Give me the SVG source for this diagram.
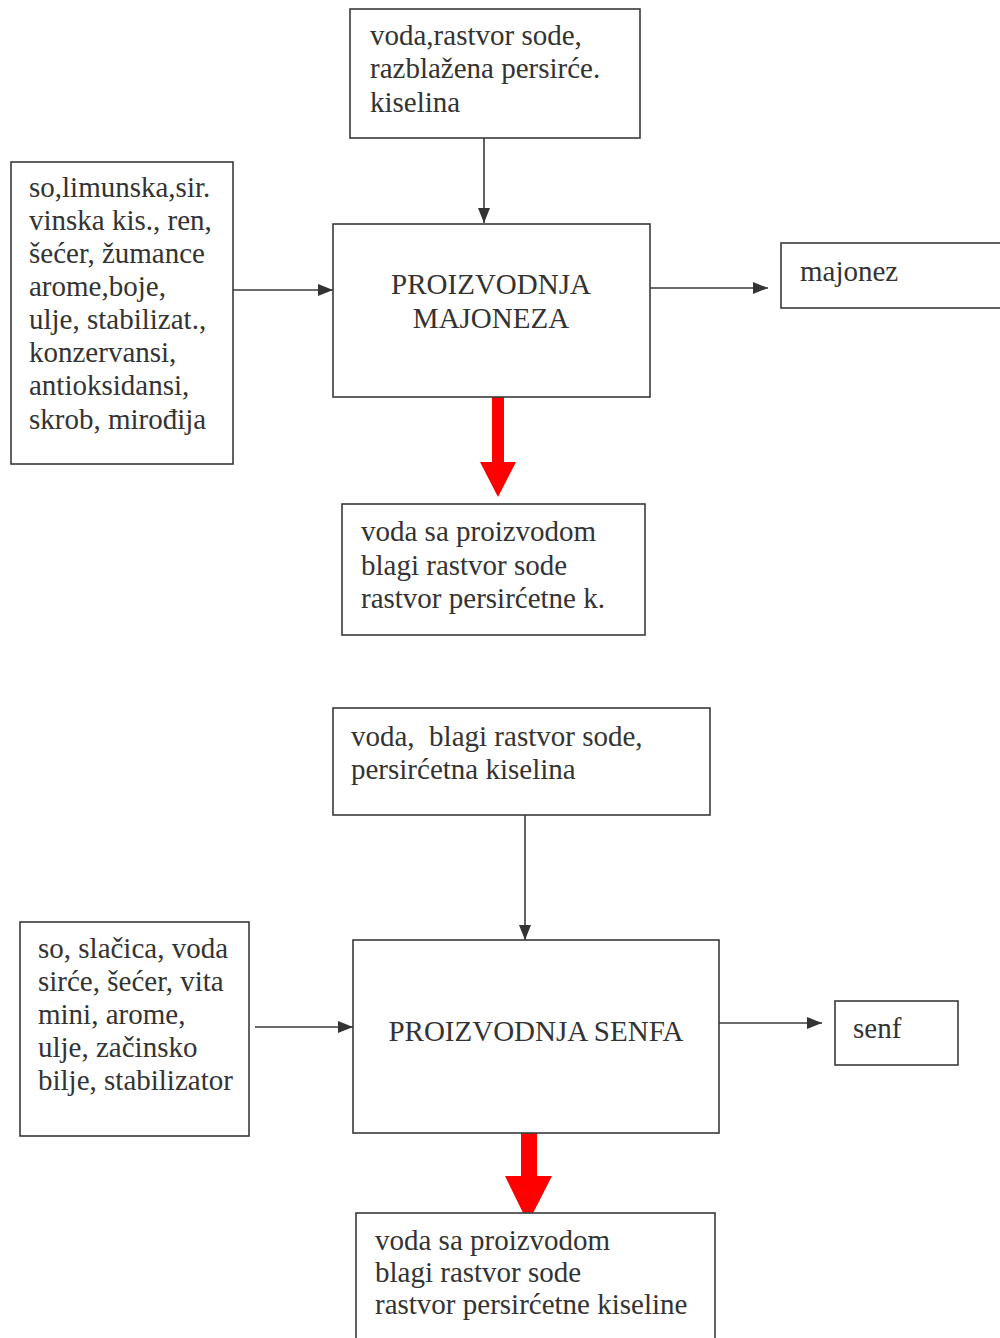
<svg xmlns="http://www.w3.org/2000/svg" width="1000" height="1338" viewBox="0 0 1000 1338">
<style>
.box{fill:#fff;stroke:#3a3a3a;stroke-width:1.6}
.t{font-family:"Liberation Serif","Times New Roman",serif;font-size:29px;fill:#333}
.c{stroke:#3a3a3a;stroke-width:1.6;fill:none;marker-end:url(#ah)}
.red{fill:#ff0000}
</style>
<defs>
<marker id="ah" viewBox="0 0 10 10" refX="10" refY="5" markerWidth="15" markerHeight="12" markerUnits="userSpaceOnUse" orient="auto" preserveAspectRatio="none"><path d="M0,0 L10,5 L0,10 z" fill="#333"/></marker>
</defs>
<rect width="1000" height="1338" fill="#fff"/>
<g id="connectors">
<path d="M484,138 V223" class="c"/>
<path d="M233,290 H333" class="c"/>
<path d="M650,288 H768" class="c"/>
<path class="red" d="M492,393 H504 V462 H516 L498,497 L480,462 H492 z"/>
<path d="M525,815 V940" class="c"/>
<path d="M255,1027 H353" class="c"/>
<path d="M719,1023 H822" class="c"/>
<path class="red" d="M521,1133 H537 V1176 H552 L528,1223 L505,1176 H521 z"/>
</g>
<g id="inputs-majonez">
<rect class="box" x="350" y="9" width="290" height="129"/>
<text class="t" x="370" y="45">voda,rastvor sode,</text>
<text class="t" x="370" y="78">razblažena persirće.</text>
<text class="t" x="370" y="112">kiselina</text>
</g>
<g id="ingredients-majonez">
<rect class="box" x="11" y="162" width="222" height="302"/>
<text class="t" x="29" y="197">so,limunska,sir.</text>
<text class="t" x="29" y="230">vinska kis., ren,</text>
<text class="t" x="29" y="263">šećer, žumance</text>
<text class="t" x="29" y="296">arome,boje,</text>
<text class="t" x="29" y="329">ulje, stabilizat.,</text>
<text class="t" x="29" y="362">konzervansi,</text>
<text class="t" x="29" y="395">antioksidansi,</text>
<text class="t" x="29" y="429">skrob, mirođija</text>
</g>
<g id="proizvodnja-majoneza">
<rect class="box" x="333" y="224" width="317" height="173"/>
<text class="t" x="491" y="294" text-anchor="middle">PROIZVODNJA</text>
<text class="t" x="491" y="328" text-anchor="middle">MAJONEZA</text>
</g>
<g id="majonez">
<rect class="box" x="781" y="243" width="225" height="65"/>
<text class="t" x="800" y="281">majonez</text>
</g>
<g id="otpad-majonez">
<rect class="box" x="342" y="504" width="303" height="131"/>
<text class="t" x="361" y="541">voda sa proizvodom</text>
<text class="t" x="361" y="575">blagi rastvor sode</text>
<text class="t" x="361" y="608">rastvor persirćetne k.</text>
</g>
<g id="inputs-senf">
<rect class="box" x="333" y="708" width="377" height="107"/>
<text class="t" x="351" y="746" xml:space="preserve">voda,  blagi rastvor sode,</text>
<text class="t" x="351" y="779">persirćetna kiselina</text>
</g>
<g id="ingredients-senf">
<rect class="box" x="20" y="922" width="229" height="214"/>
<text class="t" x="38" y="958">so, slačica, voda</text>
<text class="t" x="38" y="991">sirće, šećer, vita</text>
<text class="t" x="38" y="1024">mini, arome,</text>
<text class="t" x="38" y="1057">ulje, začinsko</text>
<text class="t" x="38" y="1090">bilje, stabilizator</text>
</g>
<g id="proizvodnja-senfa">
<rect class="box" x="353" y="940" width="366" height="193"/>
<text class="t" x="536" y="1041" text-anchor="middle">PROIZVODNJA SENFA</text>
</g>
<g id="senf">
<rect class="box" x="835" y="1001" width="123" height="64"/>
<text class="t" x="853" y="1038">senf</text>
</g>
<g id="otpad-senf">
<rect class="box" x="356" y="1213" width="359" height="130"/>
<text class="t" x="375" y="1250">voda sa proizvodom</text>
<text class="t" x="375" y="1282">blagi rastvor sode</text>
<text class="t" x="375" y="1314">rastvor persirćetne kiseline</text>
</g>
</svg>
